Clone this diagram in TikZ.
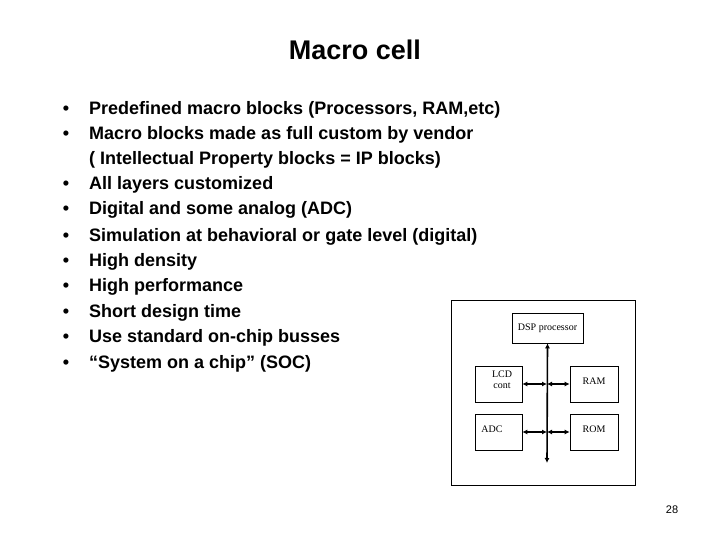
\documentclass[tikz,border=0pt]{standalone}
\usepackage{fontspec}
\usetikzlibrary{arrows.meta}
\setmainfont{Liberation Sans}
\newfontfamily\serifx{Liberation Serif}
\begin{document}
\begin{tikzpicture}[x=1pt,y=-1pt,
  blk/.style={draw,line width=0.6pt,inner sep=0pt},
  lbl/.style={font=\serifx\fontsize{10}{11}\selectfont,align=center},
  bus/.style={line width=1.6pt,{Latex[length=5pt,width=5pt]}-{Latex[length=5pt,width=5pt]}},
  item/.style={anchor=west,font=\bfseries\fontsize{18}{20}\selectfont,inner sep=0pt},
  bul/.style={font=\bfseries\fontsize{18}{20}\selectfont,inner sep=0pt}]
\useasboundingbox (0,0) rectangle (720,540);
\fill[white] (0,0) rectangle (720,540);
\node[font=\bfseries\fontsize{27}{30}\selectfont] (title) at (355,50) {Macro cell};
\foreach \y/\t [count=\i] in {110/{Predefined macro blocks (Processors, RAM,etc)},
 135/{Macro blocks made as full custom by vendor},
 185/{All layers customized},
 210/{Digital and some analog (ADC)},
 237/{Simulation at behavioral or gate level (digital)},
 262/{High density},
 287/{High performance},
 313/{Short design time},
 338/{Use standard on-chip busses},
 364/{``System on a chip'' (SOC)}}{
  \node[bul] (b\i) at (66,\y) {•};
  \node[item] (t\i) at (89,\y) {\t};
}
\node[item] (tc) at (89,160) {( Intellectual Property blocks = IP blocks)};
% diagram
\draw[line width=0.6pt] (451,300) rectangle (635,485);
\node[blk,minimum width=71pt,minimum height=30pt,lbl] (dsp) at (547.5,328) {DSP processor};
\node[blk,minimum width=47pt,minimum height=36pt] (lcd) at (498.5,384) {};
\node[lbl] (lcdt) at (502,380) {LCD\\cont};
\node[blk,minimum width=48pt,minimum height=36pt] (ram) at (594,384) {};
\node[lbl] (ramt) at (594,381) {RAM};
\node[blk,minimum width=47pt,minimum height=36pt] (adc) at (498.5,432) {};
\node[lbl] (adct) at (492,429) {ADC};
\node[blk,minimum width=48pt,minimum height=36pt] (rom) at (594,432) {};
\node[lbl] (romt) at (594,429) {ROM};
\coordinate (bend) at (547,463);
\coordinate (j1) at (547,384);
\coordinate (j2) at (547,432);
\draw[bus] (dsp.south) -- (bend);
\draw[bus] (lcd.east) -- (j1);
\draw[bus] (j1) -- (ram.west);
\draw[bus] (adc.east) -- (j2);
\draw[bus] (j2) -- (rom.west);
\node[font=\fontsize{11}{12}\selectfont] (pg) at (672,510) {28};
\end{tikzpicture}
\end{document}
